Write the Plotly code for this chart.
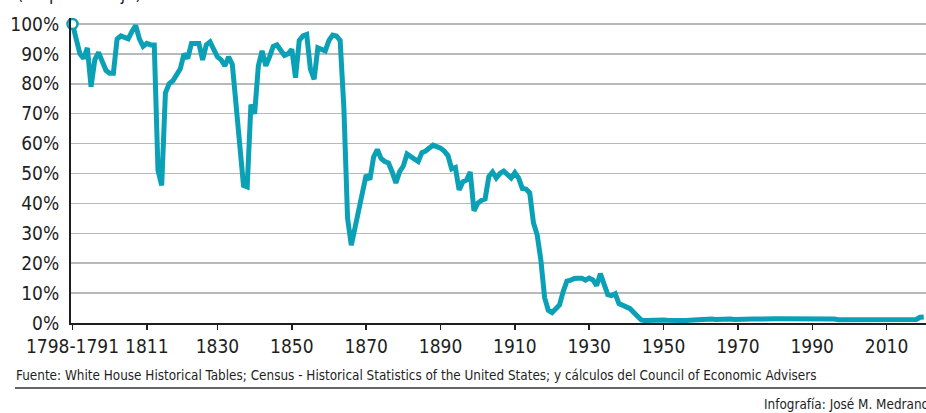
import plotly.graph_objects as go

# ---------------- data ----------------
years = list(range(1791, 2021))

values = [
    100, 94, 90, 88.5, 92, 79, 88, 90.5, 87, 84.5,            # 1791-1800
    83.5, 83.5, 95, 96, 95.5, 95, 97.5, 99.5, 95, 92.5,       # 1801-1810
    93.5, 93, 93, 51, 46, 77, 80, 81, 83, 85,                 # 1811-1820
    90, 88.5, 93.5, 93.5, 93.5, 88, 93, 94, 91, 89,           # 1821-1830
    88, 86, 89, 86.5, 73, 57, 46, 45.5, 73, 70,               # 1831-1840
    86, 91, 86, 89, 92.5, 93, 91.5, 89.5, 90, 91.5,           # 1841-1850
    82, 94.5, 96, 96.5, 85, 81.5, 92, 91.5, 91, 94.5,         # 1851-1860
    96.3, 96, 94.5, 72, 35, 26, 32, 37.5, 44.5, 49.5,         # 1861-1870
    48, 55.5, 58, 55, 54, 53.5, 50.5, 46.8, 50.6, 52.5,       # 1871-1880
    56.5, 55.5, 54.8, 54, 57, 57.5, 58.5, 59.5, 59, 58.5,     # 1881-1890
    57.5, 56, 51.5, 52, 44.5, 47.2, 47.8, 50.5, 37.5, 40,     # 1891-1900
    41, 41.5, 49, 50.5, 48.5, 50, 50.8, 49.5, 48.5, 50.3,     # 1901-1910
    48.5, 45, 44.8, 43.5, 33.5, 29.5, 21, 8.5, 4.2, 3.5,      # 1911-1920
    4.5, 6, 10.5, 14, 14.3, 14.9, 15, 15, 14.3, 15,           # 1921-1930
    14.4, 12.5, 16.5, 12.5, 9.5, 9.2, 9.8, 6.5, 5.8, 5.3,     # 1931-1940
    4.8, 3.5, 2.2, 1.0, 0.8, 0.9, 1.0, 0.9, 0.9, 1.0,         # 1941-1950
    0.9, 0.8, 0.9, 0.8, 0.8, 0.8, 0.9, 1.0, 1.2, 1.2,         # 1951-1960
    1.1, 1.2, 1.3, 1.2, 1.3, 1.4, 1.4, 1.3, 1.2, 1.3,         # 1961-1970
    1.3, 1.5, 1.4, 1.3, 1.3, 1.4, 1.4, 1.5, 1.6, 1.4,         # 1971-1980
    1.4, 1.4, 1.4, 1.6, 1.6, 1.7, 1.7, 1.7, 1.7, 1.6,         # 1981-1990
    1.6, 1.6, 1.6, 1.6, 1.4, 1.3, 1.1, 1.1, 1.0, 1.0,         # 1991-2000
    1.0, 1.1, 1.1, 1.1, 1.1, 1.1, 1.0, 1.1, 1.1, 1.2,         # 2001-2010
    1.2, 1.2, 1.1, 1.1, 1.1, 1.0, 1.0, 1.2, 1.9, 2.0,         # 2011-2020
]

x_tick_years = [1791, 1811, 1830, 1850, 1870, 1890, 1910, 1930, 1950, 1970, 1990, 2010]
x_tick_labels = ["1798-1791", "1811", "1830", "1850", "1870", "1890", "1910",
                 "1930", "1950", "1970", "1990", "2010"]
y_tick_values = [0, 10, 20, 30, 40, 50, 60, 70, 80, 90, 100]
y_tick_labels = ["0%", "10%", "20%", "30%", "40%", "50%", "60%", "70%", "80%", "90%", "100%"]

unit_text = "(En porcentaje)"
source_text = ("Fuente: White House Historical Tables; Census - Historical Statistics of the "
               "United States; y cálculos del Council of Economic Advisers")
credit_text = "Infografía: José M. Medrano"

# ---------------- style ----------------
FONT = "DejaVu Sans Condensed, Liberation Sans Narrow, sans-serif"
TEAL = "#0aa0b6"
INK = "#1e1e1e"

W, H = 926, 413
L, R, T, B = 71, 0, 18, 90
plot_h = H - T - B
plot_w = W - L - R


def py(pixel_y):
    return (H - B - pixel_y) / plot_h


def px(pixel_x):
    return (pixel_x - L) / plot_w


fig = go.Figure()
fig.add_trace(go.Scatter(
    x=years, y=values, mode="lines",
    line=dict(color=TEAL, width=5),
    hoverinfo="skip", showlegend=False,
))
fig.add_trace(go.Scatter(
    x=years[:1], y=values[:1], mode="markers",
    marker=dict(symbol="circle", size=10, color="white",
                line=dict(color=TEAL, width=2.5)),
    cliponaxis=False, hoverinfo="skip", showlegend=False,
))

fig.update_layout(
    width=W, height=H,
    margin=dict(l=L, r=R, t=T, b=B, pad=0, autoexpand=False),
    paper_bgcolor="white", plot_bgcolor="white",
    font=dict(family=FONT, color=INK),
    xaxis=dict(
        range=[1790.6, 2020.6], automargin=False, tickangle=0,
        tickvals=x_tick_years, ticktext=x_tick_labels,
        tickfont=dict(size=19, color=INK),
        ticks="outside", ticklen=5, tickwidth=1.5, tickcolor=INK,
        showline=True, linecolor=INK, linewidth=2,
        showgrid=False, zeroline=False,
    ),
    yaxis=dict(
        range=[0, 102], automargin=False,
        tickvals=y_tick_values, ticktext=y_tick_labels,
        tickfont=dict(size=19, color=INK),
        ticks="", ticklabelstandoff=6,
        showline=True, linecolor=INK, linewidth=2,
        showgrid=True, gridcolor="#b6baba", gridwidth=1.5,
        zeroline=False,
    ),
    annotations=[
        dict(text=unit_text, xref="paper", yref="paper",
             x=px(15), y=py(6), xanchor="left", yanchor="bottom",
             showarrow=False, font=dict(size=18, color=INK)),
        dict(text=source_text, xref="paper", yref="paper",
             x=px(14), y=py(375), xanchor="left", yanchor="middle",
             showarrow=False, font=dict(size=13.4, color=INK)),
        dict(text=credit_text, xref="paper", yref="paper",
             x=px(762), y=py(404), xanchor="left", yanchor="middle",
             showarrow=False, font=dict(size=13.4, color=INK)),
    ],
    shapes=[
        dict(type="line", xref="paper", yref="paper",
             x0=px(15), x1=1.0, y0=py(388), y1=py(388),
             line=dict(color="#333333", width=1.5)),
    ],
)

fig.write_html(
    "out.html",
    config={"displayModeBar": False, "staticPlot": True},
    post_script="document.body.style.margin='0';document.body.style.overflow='hidden';",
)
